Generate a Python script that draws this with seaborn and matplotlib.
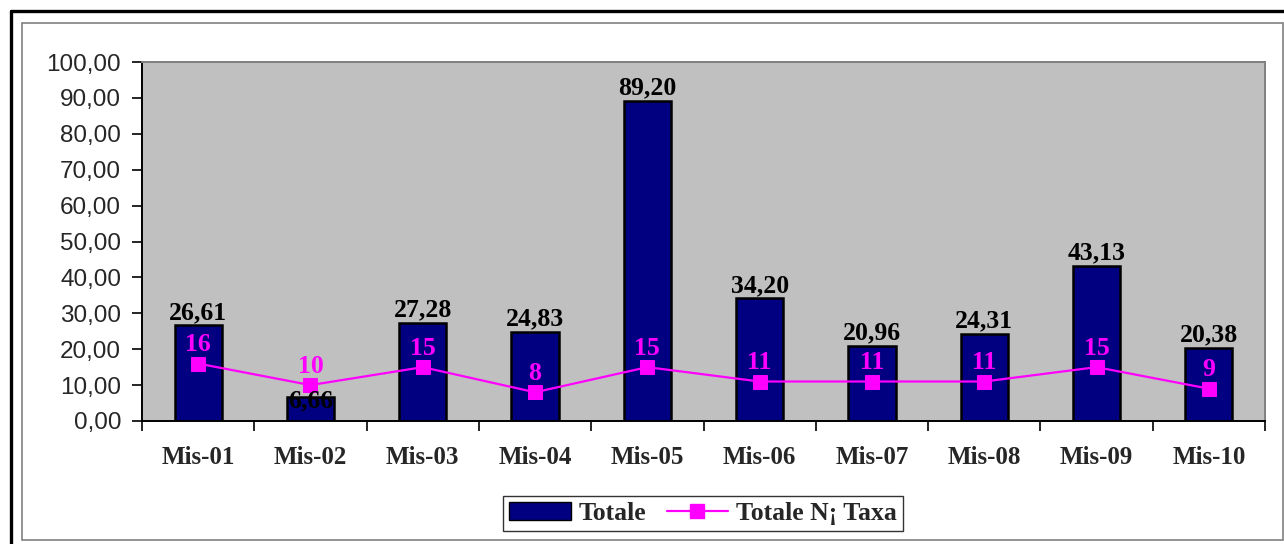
import matplotlib
matplotlib.use("Agg")
import matplotlib.pyplot as plt
from matplotlib.patches import Patch, Rectangle
from matplotlib.lines import Line2D
from matplotlib.ticker import FuncFormatter, FixedLocator
import seaborn as sns
import pandas as pd

# Data
categories = ["Mis-01", "Mis-02", "Mis-03", "Mis-04", "Mis-05",
              "Mis-06", "Mis-07", "Mis-08", "Mis-09", "Mis-10"]
totale = [26.61, 6.66, 27.28, 24.83, 89.20, 34.20, 20.96, 24.31, 43.13, 20.38]
taxa = [16, 10, 15, 8, 15, 11, 11, 11, 15, 9]
y_ticks = [0, 10, 20, 30, 40, 50, 60, 70, 80, 90, 100]

NAVY = "#000080"
MAGENTA = "#FF00FF"
SERIF = "Liberation Serif"
SANS = "Liberation Sans"

sns.set_style("white")
plt.rcParams["font.family"] = [SANS, "DejaVu Sans"]

df = pd.DataFrame({"cat": categories, "totale": totale, "taxa": taxa})

fig = plt.figure(figsize=(12.84, 5.44), dpi=100)
W, H = 1284, 544
ax = fig.add_axes([142 / W, 1 - 421 / H, (1265 - 142) / W, (421 - 62) / H])
ax.set_facecolor("#C0C0C0")

sns.barplot(data=df, x="cat", y="totale", color=NAVY, width=0.42,
            edgecolor="black", linewidth=1.8, saturation=1, ax=ax, zorder=2)
sns.lineplot(data=df, x="cat", y="taxa", color=MAGENTA, linewidth=1.6,
             marker="s", markersize=10, markeredgecolor=MAGENTA,
             sort=False, ax=ax, zorder=3)

ax.set_ylim(0, 100)
ax.set_xlim(-0.5, len(categories) - 0.5)
ax.set_xlabel("")
ax.set_ylabel("")

# Value labels on bars
for i, v in enumerate(totale):
    if i == 1:
        ax.annotate(f"{v:.2f}".replace(".", ","), (i, v), xytext=(0, -3),
                    textcoords="offset points", ha="center", va="center",
                    fontsize=18.5, fontweight="bold", family=SERIF,
                    color="black", zorder=4)
    else:
        ax.annotate(f"{v:.2f}".replace(".", ","), (i, v), xytext=(0, 1),
                    textcoords="offset points", ha="center", va="bottom",
                    fontsize=18.5, fontweight="bold", family=SERIF,
                    color="black", zorder=4)

# Value labels on line points
for i, v in enumerate(taxa):
    ax.annotate(f"{v}", (i, v), xytext=(0, 13.5), textcoords="offset points",
                ha="center", va="center", fontsize=18.5, fontweight="bold",
                family=SERIF, color=MAGENTA, zorder=5)

# Y axis
ax.yaxis.set_major_locator(FixedLocator(y_ticks))
ax.yaxis.set_major_formatter(FuncFormatter(lambda v, p: f"{v:.2f}".replace(".", ",")))
ax.tick_params(axis="y", which="major", direction="out", length=7, width=1.2,
               color="black", left=True, labelsize=17.5, pad=8)
for lbl in ax.get_yticklabels():
    lbl.set_family(SANS)

# X axis: labels centred, tick marks between categories
ax.set_xticks(range(len(categories)))
ax.set_xticklabels(categories, fontsize=18, fontweight="bold", family=SERIF)
ax.tick_params(axis="x", which="major", length=0, pad=18)
ax.set_xticks([i - 0.5 for i in range(len(categories) + 1)], minor=True)
ax.tick_params(axis="x", which="minor", direction="out", length=7, width=1.2,
               color="black", bottom=True)

for side in ["left", "bottom"]:
    ax.spines[side].set_color("black")
    ax.spines[side].set_linewidth(1.4)
for side in ["top", "right"]:
    ax.spines[side].set_color("#808080")
    ax.spines[side].set_linewidth(1.4)
ax.grid(False)

# Legend
handles = [Patch(facecolor=NAVY, edgecolor="black", linewidth=1),
           Line2D([0], [0], color=MAGENTA, linewidth=1.6, marker="s",
                  markersize=10, markeredgecolor=MAGENTA)]
leg = fig.legend(handles, ["Totale", "Totale N¡ Taxa"], loc="center",
                 bbox_to_anchor=(703 / W, 1 - 513.5 / H), ncol=2,
                 frameon=True, fancybox=False, shadow=False,
                 prop={"family": SERIF, "weight": "bold", "size": 18.5},
                 handlelength=2.4, handletextpad=0.3, columnspacing=0.8,
                 borderpad=0.25, borderaxespad=0)
leg.get_frame().set_edgecolor("black")
leg.get_frame().set_linewidth(1.0)

# Chart borders
fig.add_artist(Rectangle((22 / W, 1 - 540 / H), (1283 - 22) / W, (540 - 23) / H,
                         transform=fig.transFigure, fill=False,
                         edgecolor="#808080", linewidth=1.2))
fig.add_artist(Line2D([11 / W, 1.0], [1 - 11 / H, 1 - 11 / H],
                      transform=fig.transFigure, color="black", linewidth=2.4))
fig.add_artist(Line2D([11 / W, 11 / W], [1 - 11 / H, 0.0],
                      transform=fig.transFigure, color="black", linewidth=2.4))

fig.savefig("out.png", dpi=100)
